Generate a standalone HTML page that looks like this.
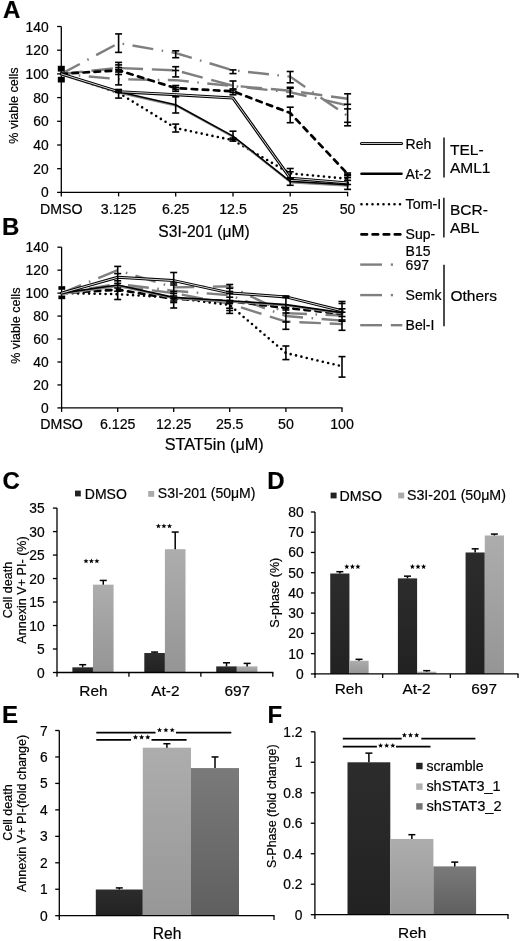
<!DOCTYPE html>
<html><head><meta charset="utf-8"><title>Figure</title>
<style>
html,body{margin:0;padding:0;background:#fff;}
body{width:520px;height:941px;overflow:hidden;}
svg{display:block;filter:blur(0.3px);}
svg text{font-family:"Liberation Sans", sans-serif;fill:#000;stroke:#000;stroke-width:0.2px;}
</style></head><body>
<svg width="520" height="941" viewBox="0 0 520 941">
<rect width="520" height="941" fill="#fff"/>
<defs>
<linearGradient id="gDark" x1="0" y1="0" x2="0" y2="1"><stop offset="0" stop-color="#2c2c2c"/><stop offset="1" stop-color="#222"/></linearGradient>
<linearGradient id="gLight" x1="0" y1="0" x2="0" y2="1"><stop offset="0" stop-color="#adadad"/><stop offset="1" stop-color="#959595"/></linearGradient>
<linearGradient id="gLight2" x1="0" y1="0" x2="0" y2="1"><stop offset="0" stop-color="#adadad"/><stop offset="1" stop-color="#979797"/></linearGradient>
<linearGradient id="gMid" x1="0" y1="0" x2="0" y2="1"><stop offset="0" stop-color="#7a7a7a"/><stop offset="1" stop-color="#5f5f5f"/></linearGradient>
</defs>
<line x1="61.3" y1="26.5" x2="61.3" y2="193" stroke="#000" stroke-width="1.3" />
<line x1="60.7" y1="192.4" x2="348.2" y2="192.4" stroke="#000" stroke-width="1.3" />
<line x1="57.1" y1="192.4" x2="61.3" y2="192.4" stroke="#000" stroke-width="1.3" />
<text x="48.6" y="197.4" font-size="13.8" text-anchor="end" >0</text>
<line x1="57.1" y1="168.7" x2="61.3" y2="168.7" stroke="#000" stroke-width="1.3" />
<text x="48.6" y="173.7" font-size="13.8" text-anchor="end" >20</text>
<line x1="57.1" y1="145" x2="61.3" y2="145" stroke="#000" stroke-width="1.3" />
<text x="48.6" y="150" font-size="13.8" text-anchor="end" >40</text>
<line x1="57.1" y1="121.3" x2="61.3" y2="121.3" stroke="#000" stroke-width="1.3" />
<text x="48.6" y="126.3" font-size="13.8" text-anchor="end" >60</text>
<line x1="57.1" y1="97.6" x2="61.3" y2="97.6" stroke="#000" stroke-width="1.3" />
<text x="48.6" y="102.6" font-size="13.8" text-anchor="end" >80</text>
<line x1="57.1" y1="73.9" x2="61.3" y2="73.9" stroke="#000" stroke-width="1.3" />
<text x="48.6" y="78.9" font-size="13.8" text-anchor="end" >100</text>
<line x1="57.1" y1="50.2" x2="61.3" y2="50.2" stroke="#000" stroke-width="1.3" />
<text x="48.6" y="55.2" font-size="13.8" text-anchor="end" >120</text>
<line x1="57.1" y1="26.5" x2="61.3" y2="26.5" stroke="#000" stroke-width="1.3" />
<text x="48.6" y="31.5" font-size="13.8" text-anchor="end" >140</text>
<line x1="61.3" y1="192.4" x2="61.3" y2="196.4" stroke="#000" stroke-width="1.3" />
<line x1="118.6" y1="192.4" x2="118.6" y2="196.4" stroke="#000" stroke-width="1.3" />
<line x1="175.7" y1="192.4" x2="175.7" y2="196.4" stroke="#000" stroke-width="1.3" />
<line x1="233" y1="192.4" x2="233" y2="196.4" stroke="#000" stroke-width="1.3" />
<line x1="290.2" y1="192.4" x2="290.2" y2="196.4" stroke="#000" stroke-width="1.3" />
<line x1="347.6" y1="192.4" x2="347.6" y2="196.4" stroke="#000" stroke-width="1.3" />
<text x="61.3" y="213.6" font-size="14.2" text-anchor="middle" >DMSO</text>
<text x="118.6" y="213.6" font-size="14.2" text-anchor="middle" >3.125</text>
<text x="175.7" y="213.6" font-size="14.2" text-anchor="middle" >6.25</text>
<text x="233" y="213.6" font-size="14.2" text-anchor="middle" >12.5</text>
<text x="290.2" y="213.6" font-size="14.2" text-anchor="middle" >25</text>
<text x="347.6" y="213.6" font-size="14.2" text-anchor="middle" >50</text>
<text x="204" y="237.4" font-size="15.6" text-anchor="middle" >S3I-201 (μM)</text>
<text transform="translate(18.3,105.5) rotate(-90)" x="0" y="0" font-size="12.6" text-anchor="middle">% viable cells</text>
<text x="3.1" y="18.4" font-size="24" text-anchor="start" font-weight="bold" >A</text>
<polyline points="61.3,73.9 118.6,43.09 175.7,53.04 233,70.34 290.2,76.63 347.6,115.97" fill="none" stroke="#7f7f7f" stroke-width="2.4" stroke-dasharray="21 8.5 1.6 8.5"/>
<polyline points="61.3,73.9 118.6,79.23 175.7,80.18 233,86.11 290.2,92.27 347.6,105.42" fill="none" stroke="#7f7f7f" stroke-width="2.4" stroke-dasharray="21 8.5 1.6 8.5" stroke-dashoffset="12"/>
<polyline points="61.3,73.9 118.6,67.97 175.7,70.34 233,85.75 290.2,90.73 347.6,98.78" fill="none" stroke="#7f7f7f" stroke-width="2.4" stroke-dasharray="21.5 8.8"/>
<polyline points="61.3,73.9 118.6,92.86 175.7,128.05 233,140.26 290.2,173.44 347.6,178.77" fill="none" stroke="#000" stroke-width="2.6" stroke-dasharray="0 5.5" stroke-linecap="round"/>
<polyline points="61.3,73.9 118.6,70.34 175.7,88.12 233,91.32 290.2,113 347.6,173.91" fill="none" stroke="#000" stroke-width="2.7" stroke-dasharray="5.5 5.6" stroke-linecap="round"/>
<polyline points="61.3,73.9 118.6,91.67 175.7,104.71 233,136.11 290.2,181.38 347.6,184.82" transform="translate(0.5,1.1)" fill="none" stroke="#8c8c8c" stroke-width="1.8" stroke-linejoin="round" stroke-linecap="round"/>
<polyline points="61.3,73.9 118.6,91.67 175.7,104.71 233,136.11 290.2,181.38 347.6,184.82" fill="none" stroke="#000" stroke-width="1.6" stroke-linejoin="round" stroke-linecap="round"/>
<polyline points="61.3,73.9 118.6,91.67 175.7,94.64 233,98.07 290.2,178.18 347.6,182.92" fill="none" stroke="#000" stroke-width="3" stroke-linejoin="round" stroke-linecap="round"/>
<polyline points="61.3,73.9 118.6,91.67 175.7,94.64 233,98.07 290.2,178.18 347.6,182.92" fill="none" stroke="#d8d8d8" stroke-width="1" stroke-linejoin="round" stroke-linecap="round"/>
<line x1="118.6" y1="33.9" x2="118.6" y2="52.4" stroke="#000" stroke-width="1.6" />
<line x1="115.1" y1="33.9" x2="122.1" y2="33.9" stroke="#000" stroke-width="1.6" />
<line x1="115.1" y1="52.4" x2="122.1" y2="52.4" stroke="#000" stroke-width="1.6" />
<line x1="118.6" y1="62.4" x2="118.6" y2="84.9" stroke="#000" stroke-width="1.6" />
<line x1="115.1" y1="62.4" x2="122.1" y2="62.4" stroke="#000" stroke-width="1.6" />
<line x1="115.1" y1="64.9" x2="122.1" y2="64.9" stroke="#000" stroke-width="1.6" />
<line x1="115.1" y1="67.5" x2="122.1" y2="67.5" stroke="#000" stroke-width="1.6" />
<line x1="115.1" y1="69.5" x2="122.1" y2="69.5" stroke="#000" stroke-width="1.6" />
<line x1="115.1" y1="72" x2="122.1" y2="72" stroke="#000" stroke-width="1.6" />
<line x1="115.1" y1="74.5" x2="122.1" y2="74.5" stroke="#000" stroke-width="1.6" />
<line x1="115.1" y1="84.9" x2="122.1" y2="84.9" stroke="#000" stroke-width="1.6" />
<line x1="118.6" y1="89.5" x2="118.6" y2="98.1" stroke="#000" stroke-width="1.6" />
<line x1="115.1" y1="89.5" x2="122.1" y2="89.5" stroke="#000" stroke-width="1.6" />
<line x1="115.1" y1="91" x2="122.1" y2="91" stroke="#000" stroke-width="1.6" />
<line x1="115.1" y1="92.5" x2="122.1" y2="92.5" stroke="#000" stroke-width="1.6" />
<line x1="115.1" y1="98.1" x2="122.1" y2="98.1" stroke="#000" stroke-width="1.6" />
<line x1="175.7" y1="50.8" x2="175.7" y2="57.7" stroke="#000" stroke-width="1.6" />
<line x1="172.2" y1="50.8" x2="179.2" y2="50.8" stroke="#000" stroke-width="1.6" />
<line x1="172.2" y1="57.7" x2="179.2" y2="57.7" stroke="#000" stroke-width="1.6" />
<line x1="175.7" y1="66.7" x2="175.7" y2="76.9" stroke="#000" stroke-width="1.6" />
<line x1="172.2" y1="66.7" x2="179.2" y2="66.7" stroke="#000" stroke-width="1.6" />
<line x1="172.2" y1="70.5" x2="179.2" y2="70.5" stroke="#000" stroke-width="1.6" />
<line x1="172.2" y1="76.9" x2="179.2" y2="76.9" stroke="#000" stroke-width="1.6" />
<line x1="175.7" y1="85.5" x2="175.7" y2="91.3" stroke="#000" stroke-width="1.6" />
<line x1="172.2" y1="85.5" x2="179.2" y2="85.5" stroke="#000" stroke-width="1.6" />
<line x1="172.2" y1="87.5" x2="179.2" y2="87.5" stroke="#000" stroke-width="1.6" />
<line x1="172.2" y1="89.5" x2="179.2" y2="89.5" stroke="#000" stroke-width="1.6" />
<line x1="172.2" y1="91.3" x2="179.2" y2="91.3" stroke="#000" stroke-width="1.6" />
<line x1="175.7" y1="96.8" x2="175.7" y2="113" stroke="#000" stroke-width="1.6" />
<line x1="172.2" y1="96.8" x2="179.2" y2="96.8" stroke="#000" stroke-width="1.6" />
<line x1="172.2" y1="113" x2="179.2" y2="113" stroke="#000" stroke-width="1.6" />
<line x1="175.7" y1="124.1" x2="175.7" y2="132" stroke="#000" stroke-width="1.6" />
<line x1="172.2" y1="124.1" x2="179.2" y2="124.1" stroke="#000" stroke-width="1.6" />
<line x1="172.2" y1="132" x2="179.2" y2="132" stroke="#000" stroke-width="1.6" />
<line x1="233" y1="69.9" x2="233" y2="73.6" stroke="#000" stroke-width="1.6" />
<line x1="229.5" y1="69.9" x2="236.5" y2="69.9" stroke="#000" stroke-width="1.6" />
<line x1="229.5" y1="73.6" x2="236.5" y2="73.6" stroke="#000" stroke-width="1.6" />
<line x1="233" y1="81" x2="233" y2="88.9" stroke="#000" stroke-width="1.6" />
<line x1="229.5" y1="81" x2="236.5" y2="81" stroke="#000" stroke-width="1.6" />
<line x1="229.5" y1="88.9" x2="236.5" y2="88.9" stroke="#000" stroke-width="1.6" />
<line x1="233" y1="90" x2="233" y2="94.8" stroke="#000" stroke-width="1.6" />
<line x1="229.5" y1="90" x2="236.5" y2="90" stroke="#000" stroke-width="1.6" />
<line x1="229.5" y1="92.5" x2="236.5" y2="92.5" stroke="#000" stroke-width="1.6" />
<line x1="229.5" y1="94.8" x2="236.5" y2="94.8" stroke="#000" stroke-width="1.6" />
<line x1="233" y1="131.2" x2="233" y2="141.1" stroke="#000" stroke-width="1.6" />
<line x1="229.5" y1="131.2" x2="236.5" y2="131.2" stroke="#000" stroke-width="1.6" />
<line x1="229.5" y1="138.1" x2="236.5" y2="138.1" stroke="#000" stroke-width="1.6" />
<line x1="229.5" y1="139.6" x2="236.5" y2="139.6" stroke="#000" stroke-width="1.6" />
<line x1="229.5" y1="141.1" x2="236.5" y2="141.1" stroke="#000" stroke-width="1.6" />
<line x1="290.2" y1="71.5" x2="290.2" y2="82.8" stroke="#000" stroke-width="1.6" />
<line x1="286.7" y1="71.5" x2="293.7" y2="71.5" stroke="#000" stroke-width="1.6" />
<line x1="286.7" y1="82.8" x2="293.7" y2="82.8" stroke="#000" stroke-width="1.6" />
<line x1="290.2" y1="87.3" x2="290.2" y2="96.8" stroke="#000" stroke-width="1.6" />
<line x1="286.7" y1="87.3" x2="293.7" y2="87.3" stroke="#000" stroke-width="1.6" />
<line x1="286.7" y1="88.2" x2="293.7" y2="88.2" stroke="#000" stroke-width="1.6" />
<line x1="286.7" y1="96" x2="293.7" y2="96" stroke="#000" stroke-width="1.6" />
<line x1="286.7" y1="96.8" x2="293.7" y2="96.8" stroke="#000" stroke-width="1.6" />
<line x1="290.2" y1="107.2" x2="290.2" y2="122.7" stroke="#000" stroke-width="1.6" />
<line x1="286.7" y1="107.2" x2="293.7" y2="107.2" stroke="#000" stroke-width="1.6" />
<line x1="286.7" y1="122.7" x2="293.7" y2="122.7" stroke="#000" stroke-width="1.6" />
<line x1="290.2" y1="168.5" x2="290.2" y2="185.3" stroke="#000" stroke-width="1.6" />
<line x1="286.7" y1="168.5" x2="293.7" y2="168.5" stroke="#000" stroke-width="1.6" />
<line x1="286.7" y1="171.8" x2="293.7" y2="171.8" stroke="#000" stroke-width="1.6" />
<line x1="286.7" y1="177.8" x2="293.7" y2="177.8" stroke="#000" stroke-width="1.6" />
<line x1="286.7" y1="178.8" x2="293.7" y2="178.8" stroke="#000" stroke-width="1.6" />
<line x1="286.7" y1="185.3" x2="293.7" y2="185.3" stroke="#000" stroke-width="1.6" />
<line x1="347.6" y1="93.8" x2="347.6" y2="125.8" stroke="#000" stroke-width="1.6" />
<line x1="344.1" y1="93.8" x2="351.1" y2="93.8" stroke="#000" stroke-width="1.6" />
<line x1="344.1" y1="104.3" x2="351.1" y2="104.3" stroke="#000" stroke-width="1.6" />
<line x1="344.1" y1="108.9" x2="351.1" y2="108.9" stroke="#000" stroke-width="1.6" />
<line x1="344.1" y1="122.3" x2="351.1" y2="122.3" stroke="#000" stroke-width="1.6" />
<line x1="344.1" y1="125.8" x2="351.1" y2="125.8" stroke="#000" stroke-width="1.6" />
<line x1="347.6" y1="173" x2="347.6" y2="189.4" stroke="#000" stroke-width="1.6" />
<line x1="344.1" y1="173" x2="351.1" y2="173" stroke="#000" stroke-width="1.6" />
<line x1="344.1" y1="174.5" x2="351.1" y2="174.5" stroke="#000" stroke-width="1.6" />
<line x1="344.1" y1="175.6" x2="351.1" y2="175.6" stroke="#000" stroke-width="1.6" />
<line x1="344.1" y1="177.6" x2="351.1" y2="177.6" stroke="#000" stroke-width="1.6" />
<line x1="344.1" y1="180.4" x2="351.1" y2="180.4" stroke="#000" stroke-width="1.6" />
<line x1="344.1" y1="184.5" x2="351.1" y2="184.5" stroke="#000" stroke-width="1.6" />
<line x1="344.1" y1="189.4" x2="351.1" y2="189.4" stroke="#000" stroke-width="1.6" />
<rect x="57.8" y="65.8" width="7" height="5.8" fill="#000"/>
<rect x="57.8" y="76.8" width="7" height="5.7" fill="#000"/>
<line x1="61.6" y1="247.2" x2="61.6" y2="408.5" stroke="#000" stroke-width="1.3" />
<line x1="61" y1="407.9" x2="342.6" y2="407.9" stroke="#000" stroke-width="1.3" />
<line x1="57.4" y1="407.9" x2="61.6" y2="407.9" stroke="#000" stroke-width="1.3" />
<text x="48.6" y="412.9" font-size="13.8" text-anchor="end" >0</text>
<line x1="57.4" y1="384.94" x2="61.6" y2="384.94" stroke="#000" stroke-width="1.3" />
<text x="48.6" y="389.94" font-size="13.8" text-anchor="end" >20</text>
<line x1="57.4" y1="361.99" x2="61.6" y2="361.99" stroke="#000" stroke-width="1.3" />
<text x="48.6" y="366.99" font-size="13.8" text-anchor="end" >40</text>
<line x1="57.4" y1="339.03" x2="61.6" y2="339.03" stroke="#000" stroke-width="1.3" />
<text x="48.6" y="344.03" font-size="13.8" text-anchor="end" >60</text>
<line x1="57.4" y1="316.07" x2="61.6" y2="316.07" stroke="#000" stroke-width="1.3" />
<text x="48.6" y="321.07" font-size="13.8" text-anchor="end" >80</text>
<line x1="57.4" y1="293.11" x2="61.6" y2="293.11" stroke="#000" stroke-width="1.3" />
<text x="48.6" y="298.11" font-size="13.8" text-anchor="end" >100</text>
<line x1="57.4" y1="270.16" x2="61.6" y2="270.16" stroke="#000" stroke-width="1.3" />
<text x="48.6" y="275.16" font-size="13.8" text-anchor="end" >120</text>
<line x1="57.4" y1="247.2" x2="61.6" y2="247.2" stroke="#000" stroke-width="1.3" />
<text x="48.6" y="252.2" font-size="13.8" text-anchor="end" >140</text>
<line x1="61.6" y1="407.9" x2="61.6" y2="411.9" stroke="#000" stroke-width="1.3" />
<line x1="117.7" y1="407.9" x2="117.7" y2="411.9" stroke="#000" stroke-width="1.3" />
<line x1="173.7" y1="407.9" x2="173.7" y2="411.9" stroke="#000" stroke-width="1.3" />
<line x1="229.7" y1="407.9" x2="229.7" y2="411.9" stroke="#000" stroke-width="1.3" />
<line x1="285.9" y1="407.9" x2="285.9" y2="411.9" stroke="#000" stroke-width="1.3" />
<line x1="342" y1="407.9" x2="342" y2="411.9" stroke="#000" stroke-width="1.3" />
<text x="61.6" y="429.4" font-size="14.2" text-anchor="middle" >DMSO</text>
<text x="117.7" y="429.4" font-size="14.2" text-anchor="middle" >6.125</text>
<text x="173.7" y="429.4" font-size="14.2" text-anchor="middle" >12.25</text>
<text x="229.7" y="429.4" font-size="14.2" text-anchor="middle" >25.5</text>
<text x="285.9" y="429.4" font-size="14.2" text-anchor="middle" >50</text>
<text x="342" y="429.4" font-size="14.2" text-anchor="middle" >100</text>
<text x="214.2" y="449.6" font-size="15.6" text-anchor="middle" textLength="99" lengthAdjust="spacingAndGlyphs">STAT5in (μM)</text>
<text transform="translate(19.5,325.7) rotate(-90)" x="0" y="0" font-size="12.6" text-anchor="middle">% viable cells</text>
<text x="2" y="235" font-size="24" text-anchor="start" font-weight="bold" >B</text>
<polyline points="61.6,293.11 117.7,270.16 173.7,287.38 229.7,286.23 285.9,313.09 342,315.5" fill="none" stroke="#7f7f7f" stroke-width="2.4" stroke-dasharray="21 8.5 1.6 8.5"/>
<polyline points="61.6,293.11 117.7,283.93 173.7,290.82 229.7,295.18 285.9,316.07 342,320.66" fill="none" stroke="#7f7f7f" stroke-width="2.4" stroke-dasharray="21 8.5 1.6 8.5" stroke-dashoffset="12"/>
<polyline points="61.6,293.11 117.7,286.23 173.7,293.11 229.7,303.9 285.9,321.58 342,324.11" fill="none" stroke="#7f7f7f" stroke-width="2.4" stroke-dasharray="21.5 8.8"/>
<polyline points="61.6,293.11 117.7,294.15 173.7,297.71 229.7,305.05 285.9,353.03 342,366.23" fill="none" stroke="#000" stroke-width="2.6" stroke-dasharray="0 5.5" stroke-linecap="round"/>
<polyline points="61.6,293.11 117.7,289.67 173.7,298.85 229.7,301.15 285.9,307.92 342,313.78" fill="none" stroke="#000" stroke-width="2.7" stroke-dasharray="5.5 5.6" stroke-linecap="round"/>
<polyline points="61.6,293.11 117.7,285.08 173.7,297.36 229.7,300.69 285.9,304.59 342,312.63" transform="translate(0.5,1.1)" fill="none" stroke="#8c8c8c" stroke-width="1.8" stroke-linejoin="round" stroke-linecap="round"/>
<polyline points="61.6,293.11 117.7,285.08 173.7,297.36 229.7,300.69 285.9,304.59 342,312.63" fill="none" stroke="#000" stroke-width="1.6" stroke-linejoin="round" stroke-linecap="round"/>
<polyline points="61.6,293.11 117.7,277.27 173.7,280.6 229.7,292.88 285.9,296.9 342,310.79" fill="none" stroke="#000" stroke-width="3" stroke-linejoin="round" stroke-linecap="round"/>
<polyline points="61.6,293.11 117.7,277.27 173.7,280.6 229.7,292.88 285.9,296.9 342,310.79" fill="none" stroke="#d8d8d8" stroke-width="1" stroke-linejoin="round" stroke-linecap="round"/>
<line x1="117.7" y1="266.4" x2="117.7" y2="299.5" stroke="#000" stroke-width="1.6" />
<line x1="114.2" y1="266.4" x2="121.2" y2="266.4" stroke="#000" stroke-width="1.6" />
<line x1="114.2" y1="273.6" x2="121.2" y2="273.6" stroke="#000" stroke-width="1.6" />
<line x1="114.2" y1="280.8" x2="121.2" y2="280.8" stroke="#000" stroke-width="1.6" />
<line x1="114.2" y1="283.4" x2="121.2" y2="283.4" stroke="#000" stroke-width="1.6" />
<line x1="114.2" y1="288" x2="121.2" y2="288" stroke="#000" stroke-width="1.6" />
<line x1="114.2" y1="291.2" x2="121.2" y2="291.2" stroke="#000" stroke-width="1.6" />
<line x1="114.2" y1="299.5" x2="121.2" y2="299.5" stroke="#000" stroke-width="1.6" />
<line x1="173.7" y1="272.5" x2="173.7" y2="308" stroke="#000" stroke-width="1.6" />
<line x1="170.2" y1="272.5" x2="177.2" y2="272.5" stroke="#000" stroke-width="1.6" />
<line x1="170.2" y1="283" x2="177.2" y2="283" stroke="#000" stroke-width="1.6" />
<line x1="170.2" y1="285" x2="177.2" y2="285" stroke="#000" stroke-width="1.6" />
<line x1="170.2" y1="291.5" x2="177.2" y2="291.5" stroke="#000" stroke-width="1.6" />
<line x1="170.2" y1="293.5" x2="177.2" y2="293.5" stroke="#000" stroke-width="1.6" />
<line x1="170.2" y1="296" x2="177.2" y2="296" stroke="#000" stroke-width="1.6" />
<line x1="170.2" y1="298.5" x2="177.2" y2="298.5" stroke="#000" stroke-width="1.6" />
<line x1="170.2" y1="301" x2="177.2" y2="301" stroke="#000" stroke-width="1.6" />
<line x1="170.2" y1="302.5" x2="177.2" y2="302.5" stroke="#000" stroke-width="1.6" />
<line x1="170.2" y1="308" x2="177.2" y2="308" stroke="#000" stroke-width="1.6" />
<line x1="229.7" y1="284.5" x2="229.7" y2="313.4" stroke="#000" stroke-width="1.6" />
<line x1="226.2" y1="284.5" x2="233.2" y2="284.5" stroke="#000" stroke-width="1.6" />
<line x1="226.2" y1="288.3" x2="233.2" y2="288.3" stroke="#000" stroke-width="1.6" />
<line x1="226.2" y1="291.5" x2="233.2" y2="291.5" stroke="#000" stroke-width="1.6" />
<line x1="226.2" y1="293.5" x2="233.2" y2="293.5" stroke="#000" stroke-width="1.6" />
<line x1="226.2" y1="297.2" x2="233.2" y2="297.2" stroke="#000" stroke-width="1.6" />
<line x1="226.2" y1="300.5" x2="233.2" y2="300.5" stroke="#000" stroke-width="1.6" />
<line x1="226.2" y1="302" x2="233.2" y2="302" stroke="#000" stroke-width="1.6" />
<line x1="226.2" y1="303.3" x2="233.2" y2="303.3" stroke="#000" stroke-width="1.6" />
<line x1="226.2" y1="308.2" x2="233.2" y2="308.2" stroke="#000" stroke-width="1.6" />
<line x1="226.2" y1="310.5" x2="233.2" y2="310.5" stroke="#000" stroke-width="1.6" />
<line x1="226.2" y1="313.4" x2="233.2" y2="313.4" stroke="#000" stroke-width="1.6" />
<line x1="285.9" y1="296" x2="285.9" y2="329.3" stroke="#000" stroke-width="1.6" />
<line x1="282.4" y1="296" x2="289.4" y2="296" stroke="#000" stroke-width="1.6" />
<line x1="282.4" y1="297.5" x2="289.4" y2="297.5" stroke="#000" stroke-width="1.6" />
<line x1="282.4" y1="307.9" x2="289.4" y2="307.9" stroke="#000" stroke-width="1.6" />
<line x1="282.4" y1="310" x2="289.4" y2="310" stroke="#000" stroke-width="1.6" />
<line x1="282.4" y1="313" x2="289.4" y2="313" stroke="#000" stroke-width="1.6" />
<line x1="282.4" y1="322" x2="289.4" y2="322" stroke="#000" stroke-width="1.6" />
<line x1="282.4" y1="329.3" x2="289.4" y2="329.3" stroke="#000" stroke-width="1.6" />
<line x1="285.9" y1="346" x2="285.9" y2="359.6" stroke="#000" stroke-width="1.6" />
<line x1="282.4" y1="346" x2="289.4" y2="346" stroke="#000" stroke-width="1.6" />
<line x1="282.4" y1="359.6" x2="289.4" y2="359.6" stroke="#000" stroke-width="1.6" />
<line x1="342" y1="301.5" x2="342" y2="330.3" stroke="#000" stroke-width="1.6" />
<line x1="338.5" y1="301.5" x2="345.5" y2="301.5" stroke="#000" stroke-width="1.6" />
<line x1="338.5" y1="303.5" x2="345.5" y2="303.5" stroke="#000" stroke-width="1.6" />
<line x1="338.5" y1="308.8" x2="345.5" y2="308.8" stroke="#000" stroke-width="1.6" />
<line x1="338.5" y1="312.2" x2="345.5" y2="312.2" stroke="#000" stroke-width="1.6" />
<line x1="338.5" y1="316.5" x2="345.5" y2="316.5" stroke="#000" stroke-width="1.6" />
<line x1="338.5" y1="320" x2="345.5" y2="320" stroke="#000" stroke-width="1.6" />
<line x1="338.5" y1="321.3" x2="345.5" y2="321.3" stroke="#000" stroke-width="1.6" />
<line x1="338.5" y1="330.3" x2="345.5" y2="330.3" stroke="#000" stroke-width="1.6" />
<line x1="342" y1="356.6" x2="342" y2="377.1" stroke="#000" stroke-width="1.6" />
<line x1="338.5" y1="356.6" x2="345.5" y2="356.6" stroke="#000" stroke-width="1.6" />
<line x1="338.5" y1="377.1" x2="345.5" y2="377.1" stroke="#000" stroke-width="1.6" />
<rect x="58.4" y="286.2" width="6.8" height="3.6" fill="#000"/>
<rect x="58.4" y="295.5" width="6.8" height="3.7" fill="#000"/>
<polyline points="361.5,143.4 401.5,143.4" fill="none" stroke="#000" stroke-width="3" stroke-linejoin="round" stroke-linecap="round"/>
<polyline points="361.5,143.4 401.5,143.4" fill="none" stroke="#d8d8d8" stroke-width="1" stroke-linejoin="round" stroke-linecap="round"/>
<polyline points="361.5,173.7 401.5,173.7" fill="none" stroke="#000" stroke-width="2.6" stroke-linejoin="round" stroke-linecap="round"/>
<polyline points="361.5,204.3 401.5,204.3" fill="none" stroke="#000" stroke-width="2.6" stroke-dasharray="0 5.5" stroke-linecap="round"/>
<polyline points="361.5,234.4 401.5,234.4" fill="none" stroke="#000" stroke-width="2.7" stroke-dasharray="5.5 5.6" stroke-linecap="round"/>
<line x1="360.2" y1="264.6" x2="382" y2="264.6" stroke="#7f7f7f" stroke-width="2.4" />
<line x1="390.8" y1="264.6" x2="393" y2="264.6" stroke="#7f7f7f" stroke-width="2.4" />
<line x1="360.2" y1="295.1" x2="382" y2="295.1" stroke="#7f7f7f" stroke-width="2.4" />
<line x1="390.8" y1="295.1" x2="393" y2="295.1" stroke="#7f7f7f" stroke-width="2.4" />
<line x1="360.2" y1="325.2" x2="382" y2="325.2" stroke="#7f7f7f" stroke-width="2.4" />
<line x1="390.8" y1="325.2" x2="402.3" y2="325.2" stroke="#7f7f7f" stroke-width="2.4" />
<text x="405.6" y="148.6" font-size="14.0" text-anchor="start" >Reh</text>
<text x="405.6" y="178.8" font-size="14.0" text-anchor="start" >At-2</text>
<text x="405.6" y="209.4" font-size="14.0" text-anchor="start" textLength="35.6" lengthAdjust="spacingAndGlyphs">Tom-I</text>
<text x="405.6" y="239.3" font-size="14.0" text-anchor="start" >Sup-</text>
<text x="405.6" y="256" font-size="14.0" text-anchor="start" >B15</text>
<text x="405.6" y="269.6" font-size="14.0" text-anchor="start" >697</text>
<text x="405.6" y="300.3" font-size="14.0" text-anchor="start" >Semk</text>
<text x="405.6" y="330.2" font-size="14.0" text-anchor="start" >Bel-I</text>
<line x1="444" y1="137.6" x2="444" y2="177.6" stroke="#000" stroke-width="1.4" />
<line x1="443.9" y1="197.8" x2="443.9" y2="237.4" stroke="#000" stroke-width="1.4" />
<line x1="444" y1="264.7" x2="444" y2="326.3" stroke="#000" stroke-width="1.4" />
<text x="450" y="154.9" font-size="15.5" text-anchor="start" >TEL-</text>
<text x="450" y="173.2" font-size="15.5" text-anchor="start" >AML1</text>
<text x="450" y="215.2" font-size="15.5" text-anchor="start" >BCR-</text>
<text x="450" y="233.3" font-size="15.5" text-anchor="start" >ABL</text>
<text x="450.5" y="300.5" font-size="15.5" text-anchor="start" >Others</text>
<text x="2.4" y="488.7" font-size="24" text-anchor="start" font-weight="bold" >C</text>
<rect x="72.37" y="667.33" width="20.6" height="5.17" fill="url(#gDark)"/>
<rect x="92.97" y="584.66" width="20.6" height="87.84" fill="url(#gLight)"/>
<line x1="82.67" y1="664.7" x2="82.67" y2="667.33" stroke="#000" stroke-width="1.5" />
<line x1="79.17" y1="664.7" x2="86.17" y2="664.7" stroke="#000" stroke-width="1.5" />
<line x1="103.27" y1="580.44" x2="103.27" y2="584.66" stroke="#000" stroke-width="1.5" />
<line x1="99.77" y1="580.44" x2="106.77" y2="580.44" stroke="#000" stroke-width="1.5" />
<text x="93.47" y="696.3" font-size="15.4" text-anchor="middle" >Reh</text>
<rect x="144.3" y="653.01" width="20.6" height="19.49" fill="url(#gDark)"/>
<rect x="164.9" y="549.2" width="20.6" height="123.3" fill="url(#gLight)"/>
<line x1="154.6" y1="652.07" x2="154.6" y2="653.01" stroke="#000" stroke-width="1.5" />
<line x1="151.1" y1="652.07" x2="158.1" y2="652.07" stroke="#000" stroke-width="1.5" />
<line x1="175.2" y1="532.06" x2="175.2" y2="549.2" stroke="#000" stroke-width="1.5" />
<line x1="171.7" y1="532.06" x2="178.7" y2="532.06" stroke="#000" stroke-width="1.5" />
<text x="165.4" y="696.3" font-size="15.4" text-anchor="middle" >At-2</text>
<rect x="216.23" y="666.39" width="20.6" height="6.11" fill="url(#gDark)"/>
<rect x="236.83" y="666.39" width="20.6" height="6.11" fill="url(#gLight)"/>
<line x1="226.53" y1="662.78" x2="226.53" y2="666.39" stroke="#000" stroke-width="1.5" />
<line x1="223.03" y1="662.78" x2="230.03" y2="662.78" stroke="#000" stroke-width="1.5" />
<line x1="247.13" y1="663.39" x2="247.13" y2="666.39" stroke="#000" stroke-width="1.5" />
<line x1="243.63" y1="663.39" x2="250.63" y2="663.39" stroke="#000" stroke-width="1.5" />
<text x="237.33" y="696.3" font-size="15.4" text-anchor="middle" >697</text>
<polygon points="86,558.4 86.71,560.13 88.57,560.27 87.14,561.47 87.59,563.28 86,562.3 84.41,563.28 84.86,561.47 83.43,560.27 85.29,560.13" fill="#000"/>
<polygon points="91.4,558.4 92.11,560.13 93.97,560.27 92.54,561.47 92.99,563.28 91.4,562.3 89.81,563.28 90.26,561.47 88.83,560.27 90.69,560.13" fill="#000"/>
<polygon points="96.9,558.4 97.61,560.13 99.47,560.27 98.04,561.47 98.49,563.28 96.9,562.3 95.31,563.28 95.76,561.47 94.33,560.27 96.19,560.13" fill="#000"/>
<polygon points="158.4,523.4 159.11,525.13 160.97,525.27 159.54,526.47 159.99,528.28 158.4,527.3 156.81,528.28 157.26,526.47 155.83,525.27 157.69,525.13" fill="#000"/>
<polygon points="163.9,523.4 164.61,525.13 166.47,525.27 165.04,526.47 165.49,528.28 163.9,527.3 162.31,528.28 162.76,526.47 161.33,525.27 163.19,525.13" fill="#000"/>
<polygon points="169.5,523.4 170.21,525.13 172.07,525.27 170.64,526.47 171.09,528.28 169.5,527.3 167.91,528.28 168.36,526.47 166.93,525.27 168.79,525.13" fill="#000"/>
<line x1="57" y1="508.1" x2="57" y2="673.1" stroke="#000" stroke-width="1.3" />
<line x1="56.4" y1="672.5" x2="273.4" y2="672.5" stroke="#000" stroke-width="1.3" />
<line x1="57" y1="672.5" x2="57" y2="676.7" stroke="#000" stroke-width="1.3" />
<line x1="128.93" y1="672.5" x2="128.93" y2="676.7" stroke="#000" stroke-width="1.3" />
<line x1="200.87" y1="672.5" x2="200.87" y2="676.7" stroke="#000" stroke-width="1.3" />
<line x1="272.8" y1="672.5" x2="272.8" y2="676.7" stroke="#000" stroke-width="1.3" />
<line x1="52.9" y1="672.5" x2="57" y2="672.5" stroke="#000" stroke-width="1.3" />
<text x="44.6" y="677.5" font-size="13.8" text-anchor="end" >0</text>
<line x1="52.9" y1="649.01" x2="57" y2="649.01" stroke="#000" stroke-width="1.3" />
<text x="44.6" y="654.01" font-size="13.8" text-anchor="end" >5</text>
<line x1="52.9" y1="625.53" x2="57" y2="625.53" stroke="#000" stroke-width="1.3" />
<text x="44.6" y="630.53" font-size="13.8" text-anchor="end" >10</text>
<line x1="52.9" y1="602.04" x2="57" y2="602.04" stroke="#000" stroke-width="1.3" />
<text x="44.6" y="607.04" font-size="13.8" text-anchor="end" >15</text>
<line x1="52.9" y1="578.56" x2="57" y2="578.56" stroke="#000" stroke-width="1.3" />
<text x="44.6" y="583.56" font-size="13.8" text-anchor="end" >20</text>
<line x1="52.9" y1="555.07" x2="57" y2="555.07" stroke="#000" stroke-width="1.3" />
<text x="44.6" y="560.07" font-size="13.8" text-anchor="end" >25</text>
<line x1="52.9" y1="531.59" x2="57" y2="531.59" stroke="#000" stroke-width="1.3" />
<text x="44.6" y="536.59" font-size="13.8" text-anchor="end" >30</text>
<line x1="52.9" y1="508.1" x2="57" y2="508.1" stroke="#000" stroke-width="1.3" />
<text x="44.6" y="513.1" font-size="13.8" text-anchor="end" >35</text>
<text transform="translate(12.2,590) rotate(-90)" x="0" y="0" font-size="12.6" text-anchor="middle">Cell death</text>
<text transform="translate(25.8,590) rotate(-90)" x="0" y="0" font-size="12.6" text-anchor="middle">Annexin V+ PI- (%)</text>
<rect x="75" y="490.6" width="5.8" height="5.8" fill="#222"/>
<text x="84.8" y="498.6" font-size="14.0" text-anchor="start" >DMSO</text>
<rect x="148.2" y="491" width="6" height="5.8" fill="#aaa"/>
<text x="157.8" y="498.4" font-size="14.0" text-anchor="start" >S3I-201 (50μM)</text>
<text x="267.2" y="488.7" font-size="24" text-anchor="start" font-weight="bold" >D</text>
<rect x="330.23" y="573.52" width="19.2" height="100.38" fill="url(#gDark)"/>
<rect x="349.43" y="660.75" width="19.2" height="13.15" fill="url(#gLight)"/>
<line x1="339.83" y1="571.7" x2="339.83" y2="573.52" stroke="#000" stroke-width="1.5" />
<line x1="336.33" y1="571.7" x2="343.33" y2="571.7" stroke="#000" stroke-width="1.5" />
<line x1="359.03" y1="659.33" x2="359.03" y2="660.75" stroke="#000" stroke-width="1.5" />
<line x1="355.53" y1="659.33" x2="362.53" y2="659.33" stroke="#000" stroke-width="1.5" />
<text x="348.83" y="693.6" font-size="15.4" text-anchor="middle" >Reh</text>
<rect x="397.9" y="578.38" width="19.2" height="95.52" fill="url(#gDark)"/>
<rect x="417.1" y="671.67" width="19.2" height="2.23" fill="url(#gLight)"/>
<line x1="407.5" y1="576.15" x2="407.5" y2="578.38" stroke="#000" stroke-width="1.5" />
<line x1="404" y1="576.15" x2="411" y2="576.15" stroke="#000" stroke-width="1.5" />
<line x1="426.7" y1="670.66" x2="426.7" y2="671.67" stroke="#000" stroke-width="1.5" />
<line x1="423.2" y1="670.66" x2="430.2" y2="670.66" stroke="#000" stroke-width="1.5" />
<text x="416.5" y="693.6" font-size="15.4" text-anchor="middle" >At-2</text>
<rect x="465.57" y="552.48" width="19.2" height="121.42" fill="url(#gDark)"/>
<rect x="484.77" y="535.48" width="19.2" height="138.42" fill="url(#gLight)"/>
<line x1="475.17" y1="548.83" x2="475.17" y2="552.48" stroke="#000" stroke-width="1.5" />
<line x1="471.67" y1="548.83" x2="478.67" y2="548.83" stroke="#000" stroke-width="1.5" />
<line x1="494.37" y1="534.06" x2="494.37" y2="535.48" stroke="#000" stroke-width="1.5" />
<line x1="490.87" y1="534.06" x2="497.87" y2="534.06" stroke="#000" stroke-width="1.5" />
<text x="484.17" y="693.6" font-size="15.4" text-anchor="middle" >697</text>
<polygon points="346.8,564 347.51,565.73 349.37,565.87 347.94,567.07 348.39,568.88 346.8,567.9 345.21,568.88 345.66,567.07 344.23,565.87 346.09,565.73" fill="#000"/>
<polygon points="352.4,564 353.11,565.73 354.97,565.87 353.54,567.07 353.99,568.88 352.4,567.9 350.81,568.88 351.26,567.07 349.83,565.87 351.69,565.73" fill="#000"/>
<polygon points="357.9,564 358.61,565.73 360.47,565.87 359.04,567.07 359.49,568.88 357.9,567.9 356.31,568.88 356.76,567.07 355.33,565.87 357.19,565.73" fill="#000"/>
<polygon points="412.4,564 413.11,565.73 414.97,565.87 413.54,567.07 413.99,568.88 412.4,567.9 410.81,568.88 411.26,567.07 409.83,565.87 411.69,565.73" fill="#000"/>
<polygon points="418,564 418.71,565.73 420.57,565.87 419.14,567.07 419.59,568.88 418,567.9 416.41,568.88 416.86,567.07 415.43,565.87 417.29,565.73" fill="#000"/>
<polygon points="423.6,564 424.31,565.73 426.17,565.87 424.74,567.07 425.19,568.88 423.6,567.9 422.01,568.88 422.46,567.07 421.03,565.87 422.89,565.73" fill="#000"/>
<line x1="315" y1="512" x2="315" y2="674.5" stroke="#000" stroke-width="1.3" />
<line x1="314.4" y1="673.9" x2="518.6" y2="673.9" stroke="#000" stroke-width="1.3" />
<line x1="315" y1="673.9" x2="315" y2="678.1" stroke="#000" stroke-width="1.3" />
<line x1="382.67" y1="673.9" x2="382.67" y2="678.1" stroke="#000" stroke-width="1.3" />
<line x1="450.33" y1="673.9" x2="450.33" y2="678.1" stroke="#000" stroke-width="1.3" />
<line x1="518" y1="673.9" x2="518" y2="678.1" stroke="#000" stroke-width="1.3" />
<line x1="310.9" y1="673.9" x2="315" y2="673.9" stroke="#000" stroke-width="1.3" />
<text x="303.6" y="678.9" font-size="13.8" text-anchor="end" >0</text>
<line x1="310.9" y1="653.66" x2="315" y2="653.66" stroke="#000" stroke-width="1.3" />
<text x="303.6" y="658.66" font-size="13.8" text-anchor="end" >10</text>
<line x1="310.9" y1="633.42" x2="315" y2="633.42" stroke="#000" stroke-width="1.3" />
<text x="303.6" y="638.42" font-size="13.8" text-anchor="end" >20</text>
<line x1="310.9" y1="613.19" x2="315" y2="613.19" stroke="#000" stroke-width="1.3" />
<text x="303.6" y="618.19" font-size="13.8" text-anchor="end" >30</text>
<line x1="310.9" y1="592.95" x2="315" y2="592.95" stroke="#000" stroke-width="1.3" />
<text x="303.6" y="597.95" font-size="13.8" text-anchor="end" >40</text>
<line x1="310.9" y1="572.71" x2="315" y2="572.71" stroke="#000" stroke-width="1.3" />
<text x="303.6" y="577.71" font-size="13.8" text-anchor="end" >50</text>
<line x1="310.9" y1="552.48" x2="315" y2="552.48" stroke="#000" stroke-width="1.3" />
<text x="303.6" y="557.48" font-size="13.8" text-anchor="end" >60</text>
<line x1="310.9" y1="532.24" x2="315" y2="532.24" stroke="#000" stroke-width="1.3" />
<text x="303.6" y="537.24" font-size="13.8" text-anchor="end" >70</text>
<line x1="310.9" y1="512" x2="315" y2="512" stroke="#000" stroke-width="1.3" />
<text x="303.6" y="517" font-size="13.8" text-anchor="end" >80</text>
<text transform="translate(279.3,592.7) rotate(-90)" x="0" y="0" font-size="12.6" text-anchor="middle">S-phase (%)</text>
<rect x="330.6" y="492.6" width="6" height="5.8" fill="#222"/>
<text x="339.4" y="500.6" font-size="14.2" text-anchor="start" >DMSO</text>
<rect x="398.2" y="492.6" width="6" height="5.8" fill="#aaa"/>
<text x="407" y="500.4" font-size="14.2" text-anchor="start" >S3I-201 (50μM)</text>
<text x="2" y="722.7" font-size="24" text-anchor="start" font-weight="bold" >E</text>
<rect x="95.8" y="889.51" width="47" height="26.19" fill="url(#gDark)"/>
<line x1="119.3" y1="887.92" x2="119.3" y2="889.51" stroke="#000" stroke-width="1.5" />
<line x1="115.8" y1="887.92" x2="122.8" y2="887.92" stroke="#000" stroke-width="1.5" />
<rect x="142.8" y="747.7" width="48.2" height="168" fill="url(#gLight2)"/>
<line x1="166.9" y1="743.73" x2="166.9" y2="747.7" stroke="#000" stroke-width="1.5" />
<line x1="163.4" y1="743.73" x2="170.4" y2="743.73" stroke="#000" stroke-width="1.5" />
<rect x="191" y="768.07" width="48" height="147.63" fill="url(#gMid)"/>
<line x1="215" y1="756.96" x2="215" y2="768.07" stroke="#000" stroke-width="1.5" />
<line x1="211.5" y1="756.96" x2="218.5" y2="756.96" stroke="#000" stroke-width="1.5" />
<line x1="59.3" y1="730.5" x2="59.3" y2="916.3" stroke="#000" stroke-width="1.3" />
<line x1="58.7" y1="915.7" x2="274.6" y2="915.7" stroke="#000" stroke-width="1.3" />
<line x1="59.3" y1="915.7" x2="59.3" y2="919.9" stroke="#000" stroke-width="1.3" />
<line x1="274" y1="915.7" x2="274" y2="919.9" stroke="#000" stroke-width="1.3" />
<line x1="55.2" y1="915.7" x2="59.3" y2="915.7" stroke="#000" stroke-width="1.3" />
<text x="47.6" y="920.7" font-size="13.8" text-anchor="end" >0</text>
<line x1="55.2" y1="889.24" x2="59.3" y2="889.24" stroke="#000" stroke-width="1.3" />
<text x="47.6" y="894.24" font-size="13.8" text-anchor="end" >1</text>
<line x1="55.2" y1="862.79" x2="59.3" y2="862.79" stroke="#000" stroke-width="1.3" />
<text x="47.6" y="867.79" font-size="13.8" text-anchor="end" >2</text>
<line x1="55.2" y1="836.33" x2="59.3" y2="836.33" stroke="#000" stroke-width="1.3" />
<text x="47.6" y="841.33" font-size="13.8" text-anchor="end" >3</text>
<line x1="55.2" y1="809.87" x2="59.3" y2="809.87" stroke="#000" stroke-width="1.3" />
<text x="47.6" y="814.87" font-size="13.8" text-anchor="end" >4</text>
<line x1="55.2" y1="783.41" x2="59.3" y2="783.41" stroke="#000" stroke-width="1.3" />
<text x="47.6" y="788.41" font-size="13.8" text-anchor="end" >5</text>
<line x1="55.2" y1="756.96" x2="59.3" y2="756.96" stroke="#000" stroke-width="1.3" />
<text x="47.6" y="761.96" font-size="13.8" text-anchor="end" >6</text>
<line x1="55.2" y1="730.5" x2="59.3" y2="730.5" stroke="#000" stroke-width="1.3" />
<text x="47.6" y="735.5" font-size="13.8" text-anchor="end" >7</text>
<text x="167.1" y="938.9" font-size="15.6" text-anchor="middle" >Reh</text>
<line x1="96.3" y1="732.6" x2="155.5" y2="732.6" stroke="#000" stroke-width="1.6" />
<line x1="176" y1="732.6" x2="231.3" y2="732.6" stroke="#000" stroke-width="1.6" />
<polygon points="159.5,727.4 160.21,729.13 162.07,729.27 160.64,730.47 161.09,732.28 159.5,731.3 157.91,732.28 158.36,730.47 156.93,729.27 158.79,729.13" fill="#000"/>
<polygon points="165.9,727.4 166.61,729.13 168.47,729.27 167.04,730.47 167.49,732.28 165.9,731.3 164.31,732.28 164.76,730.47 163.33,729.27 165.19,729.13" fill="#000"/>
<polygon points="172.2,727.4 172.91,729.13 174.77,729.27 173.34,730.47 173.79,732.28 172.2,731.3 170.61,732.28 171.06,730.47 169.63,729.27 171.49,729.13" fill="#000"/>
<line x1="96.3" y1="739.9" x2="131" y2="739.9" stroke="#000" stroke-width="1.6" />
<line x1="151.5" y1="739.9" x2="186.6" y2="739.9" stroke="#000" stroke-width="1.6" />
<polygon points="135.5,734.6 136.21,736.33 138.07,736.47 136.64,737.67 137.09,739.48 135.5,738.5 133.91,739.48 134.36,737.67 132.93,736.47 134.79,736.33" fill="#000"/>
<polygon points="141.6,734.6 142.31,736.33 144.17,736.47 142.74,737.67 143.19,739.48 141.6,738.5 140.01,739.48 140.46,737.67 139.03,736.47 140.89,736.33" fill="#000"/>
<polygon points="147.8,734.6 148.51,736.33 150.37,736.47 148.94,737.67 149.39,739.48 147.8,738.5 146.21,739.48 146.66,737.67 145.23,736.47 147.09,736.33" fill="#000"/>
<text transform="translate(11.6,812.5) rotate(-90)" x="0" y="0" font-size="12.5" text-anchor="middle">Cell death</text>
<text transform="translate(26.2,813.4) rotate(-90)" x="0" y="0" font-size="12.55" text-anchor="middle">Annexin V+ PI-(fold change)</text>
<text x="267.5" y="722.7" font-size="24" text-anchor="start" font-weight="bold" >F</text>
<rect x="347.5" y="762.28" width="42.8" height="152.42" fill="url(#gDark)"/>
<line x1="368.9" y1="753.14" x2="368.9" y2="762.28" stroke="#000" stroke-width="1.5" />
<line x1="365.4" y1="753.14" x2="372.4" y2="753.14" stroke="#000" stroke-width="1.5" />
<rect x="390.3" y="838.95" width="43.1" height="75.75" fill="url(#gLight2)"/>
<line x1="411.85" y1="834.68" x2="411.85" y2="838.95" stroke="#000" stroke-width="1.5" />
<line x1="408.35" y1="834.68" x2="415.35" y2="834.68" stroke="#000" stroke-width="1.5" />
<rect x="433.4" y="866.38" width="42.7" height="48.32" fill="url(#gMid)"/>
<line x1="454.75" y1="862.12" x2="454.75" y2="866.38" stroke="#000" stroke-width="1.5" />
<line x1="451.25" y1="862.12" x2="458.25" y2="862.12" stroke="#000" stroke-width="1.5" />
<line x1="314.9" y1="731.8" x2="314.9" y2="915.3" stroke="#000" stroke-width="1.3" />
<line x1="314.3" y1="914.7" x2="508.6" y2="914.7" stroke="#000" stroke-width="1.3" />
<line x1="314.9" y1="914.7" x2="314.9" y2="918.9" stroke="#000" stroke-width="1.3" />
<line x1="508" y1="914.7" x2="508" y2="918.9" stroke="#000" stroke-width="1.3" />
<line x1="310.8" y1="914.7" x2="314.9" y2="914.7" stroke="#000" stroke-width="1.3" />
<text x="302.4" y="919.7" font-size="13.8" text-anchor="end" >0</text>
<line x1="310.8" y1="884.22" x2="314.9" y2="884.22" stroke="#000" stroke-width="1.3" />
<text x="302.4" y="889.22" font-size="13.8" text-anchor="end" >0.2</text>
<line x1="310.8" y1="853.73" x2="314.9" y2="853.73" stroke="#000" stroke-width="1.3" />
<text x="302.4" y="858.73" font-size="13.8" text-anchor="end" >0.4</text>
<line x1="310.8" y1="823.25" x2="314.9" y2="823.25" stroke="#000" stroke-width="1.3" />
<text x="302.4" y="828.25" font-size="13.8" text-anchor="end" >0.6</text>
<line x1="310.8" y1="792.77" x2="314.9" y2="792.77" stroke="#000" stroke-width="1.3" />
<text x="302.4" y="797.77" font-size="13.8" text-anchor="end" >0.8</text>
<line x1="310.8" y1="762.28" x2="314.9" y2="762.28" stroke="#000" stroke-width="1.3" />
<text x="302.4" y="767.28" font-size="13.8" text-anchor="end" >1</text>
<line x1="310.8" y1="731.8" x2="314.9" y2="731.8" stroke="#000" stroke-width="1.3" />
<text x="302.4" y="736.8" font-size="13.8" text-anchor="end" >1.2</text>
<text x="412.2" y="938.4" font-size="15.4" text-anchor="middle" >Reh</text>
<line x1="342.8" y1="738.6" x2="401.7" y2="738.6" stroke="#000" stroke-width="1.6" />
<line x1="421.3" y1="738.6" x2="475.4" y2="738.6" stroke="#000" stroke-width="1.6" />
<polygon points="404.4,732.5 405.11,734.23 406.97,734.37 405.54,735.57 405.99,737.38 404.4,736.4 402.81,737.38 403.26,735.57 401.83,734.37 403.69,734.23" fill="#000"/>
<polygon points="410.5,732.5 411.21,734.23 413.07,734.37 411.64,735.57 412.09,737.38 410.5,736.4 408.91,737.38 409.36,735.57 407.93,734.37 409.79,734.23" fill="#000"/>
<polygon points="416.7,732.5 417.41,734.23 419.27,734.37 417.84,735.57 418.29,737.38 416.7,736.4 415.11,737.38 415.56,735.57 414.13,734.37 415.99,734.23" fill="#000"/>
<line x1="342.8" y1="746.6" x2="376.9" y2="746.6" stroke="#000" stroke-width="1.6" />
<line x1="396" y1="746.6" x2="430.5" y2="746.6" stroke="#000" stroke-width="1.6" />
<polygon points="380.6,742.9 381.31,744.63 383.17,744.77 381.74,745.97 382.19,747.78 380.6,746.8 379.01,747.78 379.46,745.97 378.03,744.77 379.89,744.63" fill="#000"/>
<polygon points="386.7,742.9 387.41,744.63 389.27,744.77 387.84,745.97 388.29,747.78 386.7,746.8 385.11,747.78 385.56,745.97 384.13,744.77 385.99,744.63" fill="#000"/>
<polygon points="392.8,742.9 393.51,744.63 395.37,744.77 393.94,745.97 394.39,747.78 392.8,746.8 391.21,747.78 391.66,745.97 390.23,744.77 392.09,744.63" fill="#000"/>
<text transform="translate(276.4,806.2) rotate(-90)" x="0" y="0" font-size="12.45" text-anchor="middle">S-Phase (fold change)</text>
<rect x="416.2" y="762.8" width="6.4" height="6.4" fill="#222"/>
<rect x="416.2" y="783.4" width="6.4" height="6.4" fill="#b0b0b0"/>
<rect x="416.2" y="803.2" width="6.4" height="6.4" fill="#737373"/>
<text x="426.4" y="770.5" font-size="14.1" text-anchor="start" >scramble</text>
<text x="426.4" y="791" font-size="14.1" text-anchor="start" textLength="74.2" lengthAdjust="spacingAndGlyphs">shSTAT3_1</text>
<text x="426.4" y="810.8" font-size="14.1" text-anchor="start" textLength="75.2" lengthAdjust="spacingAndGlyphs">shSTAT3_2</text>
</svg>
</body></html>
